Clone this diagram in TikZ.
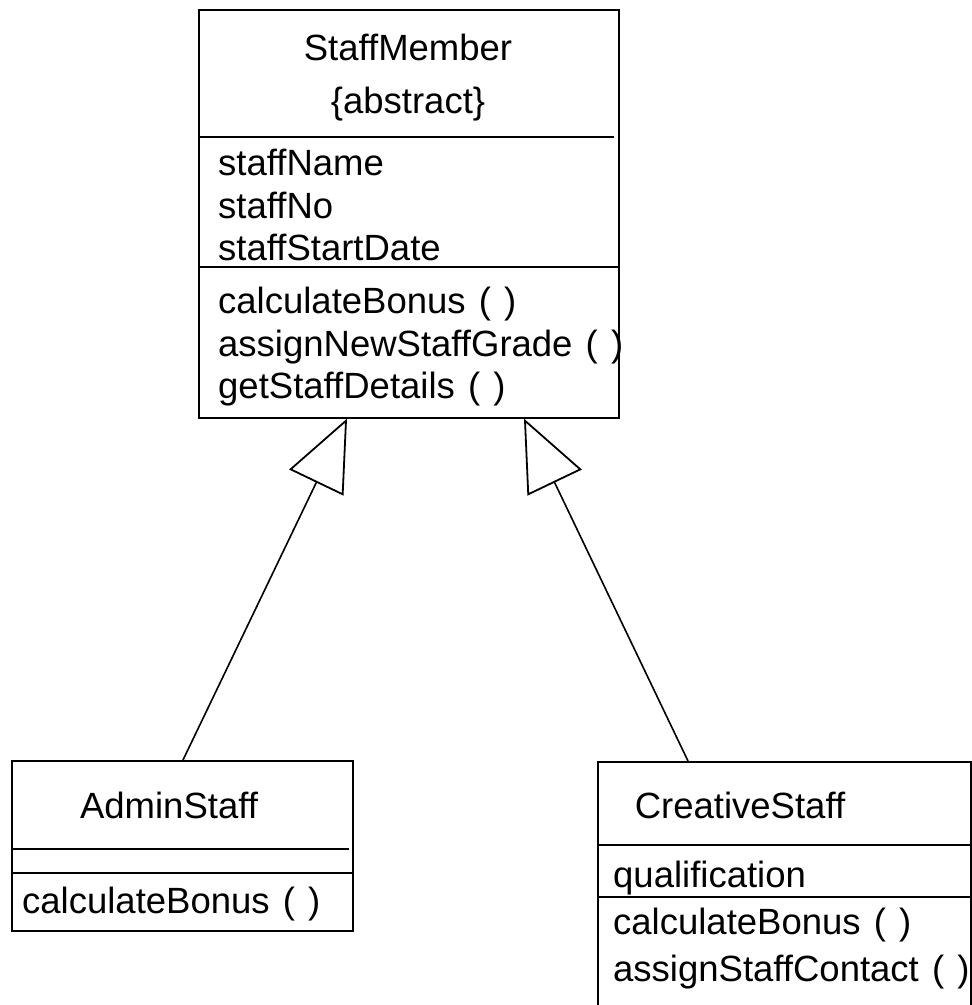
\documentclass[tikz,border=0pt]{standalone}
\usepackage{fontspec}
\setmainfont{Liberation Sans}[WordSpace=1.3]
\usetikzlibrary{arrows.meta,calc}
\tikzset{
  box/.style={draw, line width=1.6pt, inner sep=0pt, anchor=north west},
  txt/.style={inner sep=0pt, text height=26pt, text depth=0pt, anchor=west},
  ctxt/.style={inner sep=0pt, text height=26pt, text depth=0pt, anchor=center},
  divider/.style={line width=1.4pt},
  gen/.style={line width=1.6pt, -{Triangle[open, length=71pt, width=60pt, line width=1.8pt]}}
}
\begin{document}
\begin{tikzpicture}[x=1pt,y=-1pt, every node/.style={font=\fontsize{36.5}{43}\selectfont}]
\useasboundingbox (0,0) rectangle (972,1005);
\clip (0,0) rectangle (972,1005);

% StaffMember
\node[box, minimum width=420pt, minimum height=408pt] (staff) at (198,9) {};
\draw[divider] (198,137) -- (614,137);
\draw[divider] (198,267) -- (618,267);
\node[ctxt] (sm) at (408,47) {StaffMember};
\node[ctxt] (abs) at (408,100) {\{abstract\}};
\node[txt] (a1) at (218,162) {staffName};
\node[txt] (a2) at (218,205) {staffNo};
\node[txt] (a3) at (218,247) {staffStartDate};
\node[txt] (o1) at (218,300) {calculateBonus ( )};
\node[txt] (o2) at (218,343) {assignNewStaffGrade ( )};
\node[txt] (o3) at (218,385) {getStaffDetails ( )};

% AdminStaff
\node[box, minimum width=341pt, minimum height=170pt] (admin) at (11,760) {};
\draw[divider] (11,849) -- (349,849);
\draw[divider] (11,873) -- (352,873);
\node[ctxt] (an) at (169,805) {AdminStaff};
\node[txt] (ao1) at (22,900) {calculateBonus ( )};

% CreativeStaff
\node[box, minimum width=373pt, minimum height=260pt] (creative) at (597,761) {};
\draw[divider] (597,845) -- (970,845);
\draw[divider] (597,897) -- (970,897);
\node[ctxt] (cn) at (740,805) {CreativeStaff};
\node[txt] (ca1) at (613,874) {qualification};
\node[txt] (co1) at (613,921) {calculateBonus ( )};
\node[txt] (co2) at (613,968) {assignStaffContact ( )};

% generalisations
\draw[gen] ($(admin.north west)+(172,0)$) -- ($(staff.south west)+(149,0)$);
\draw[gen] ($(creative.north west)+(91,0)$) -- ($(staff.south west)+(326,0)$);
\end{tikzpicture}
\end{document}
